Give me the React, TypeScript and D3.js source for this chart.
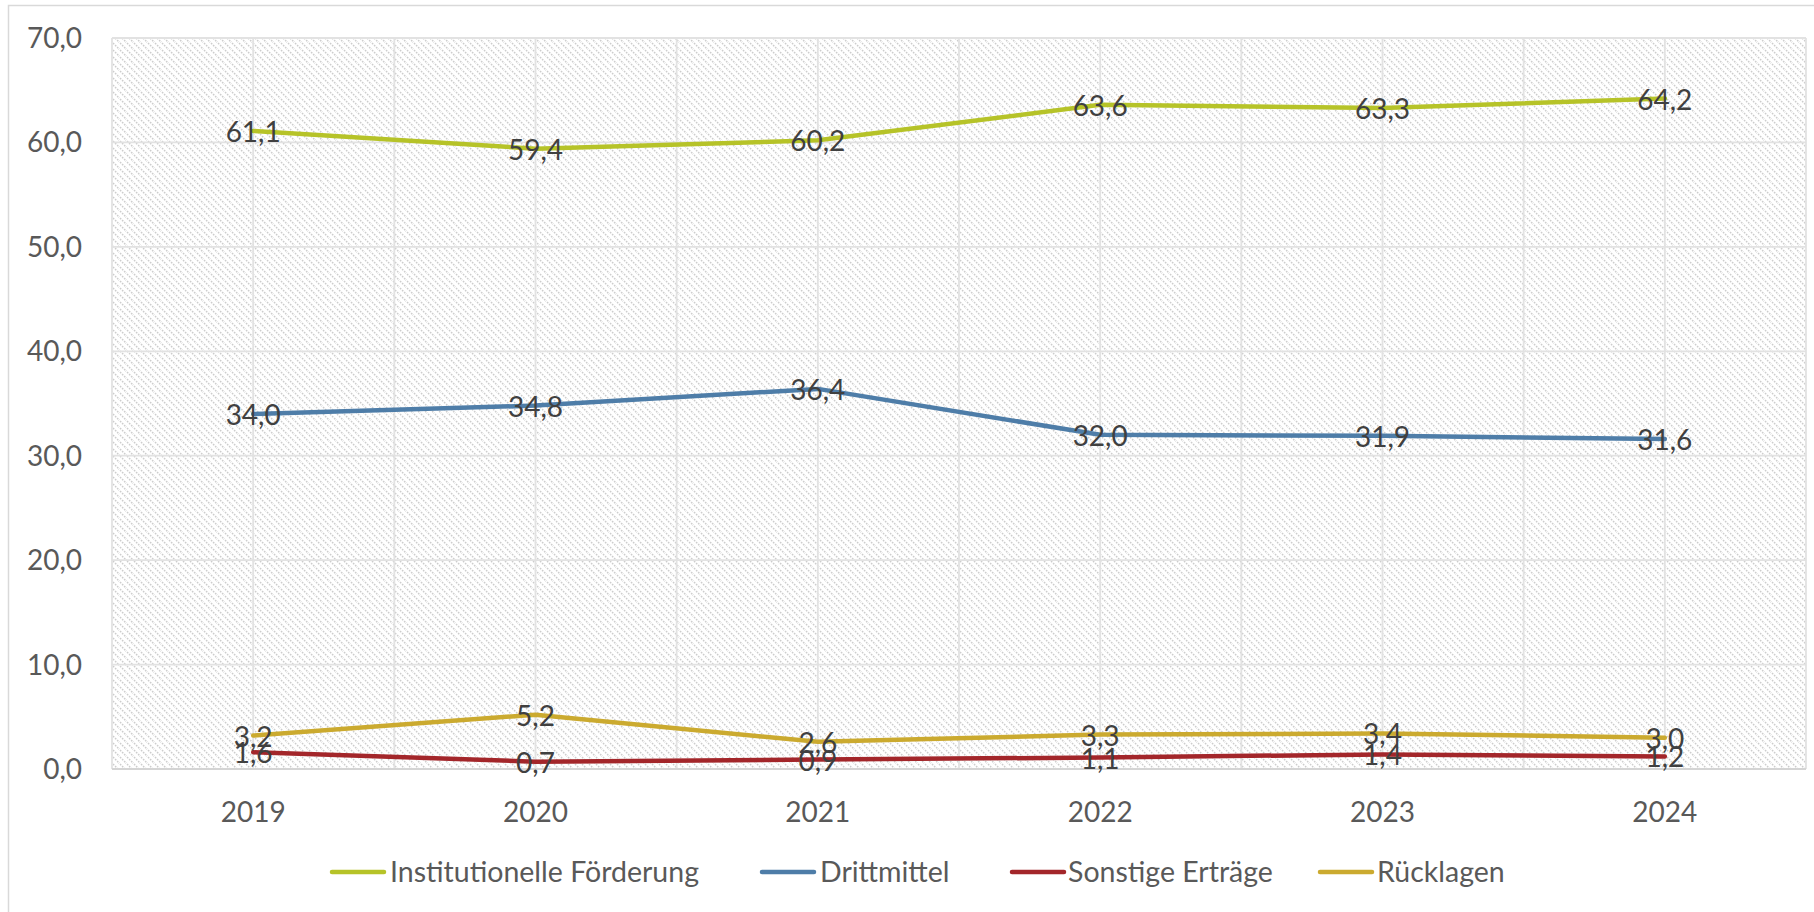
import React from "react";
import * as d3 from "d3";

const years = ["2019", "2020", "2021", "2022", "2023", "2024"];
const institutionell = [61.1, 59.4, 60.2, 63.6, 63.3, 64.2];
const drittmittel = [34.0, 34.8, 36.4, 32.0, 31.9, 31.6];
const sonstige = [1.6, 0.7, 0.9, 1.1, 1.4, 1.2];
const ruecklagen = [3.2, 5.2, 2.6, 3.3, 3.4, 3.0];
const seriesNames = ["Institutionelle Förderung", "Drittmittel", "Sonstige Erträge", "Rücklagen"];
const yTicks = [0, 10, 20, 30, 40, 50, 60, 70];

const colors = ["#B6C328", "#4E7DA8", "#A3262A", "#CBAA2F"];
const seriesValues = [institutionell, drittmittel, sonstige, ruecklagen];
const W = 1814;
const H = 912;
const plot = { left: 112, right: 1806, top: 38, bottom: 769 };
const FONT = "Lato, 'Noto Sans', sans-serif";
const fmt = (v: number) => v.toFixed(1).replace(".", ",");

export default function App() {
  const x = d3
    .scaleBand<string>()
    .domain(years)
    .range([plot.left, plot.right])
    .paddingInner(0)
    .paddingOuter(0);
  const bw = x.bandwidth();
  const cx = (yr: string) => (x(yr) as number) + bw / 2;
  const y = d3.scaleLinear().domain([0, 70]).range([plot.bottom, plot.top]);

  const line = d3
    .line<number>()
    .x((_, i) => cx(years[i]))
    .y((d) => y(d))
    .curve(d3.curveLinear);

  const vGrid: number[] = [];
  years.forEach((yr) => {
    vGrid.push(x(yr) as number);
    vGrid.push(cx(yr));
  });
  vGrid.push(plot.right);

  const legendItems = [
    { lx: 332, tx: 390 },
    { lx: 762, tx: 820 },
    { lx: 1012, tx: 1068 },
    { lx: 1320, tx: 1377 },
  ];
  const legendY = 872;

  return (
    <svg
      width={W}
      height={H}
      style={{ position: "absolute", left: 0, top: 0, background: "#fff" }}
    >
      <defs>
        <pattern id="hatch" patternUnits="userSpaceOnUse" width={7} height={7}>
          <rect width={7} height={7} fill="#ffffff" />
          <path
            d="M-1,-1 L8,8 M-1,6 L1,8 M6,-1 L8,1"
            stroke="#cdcdcd"
            strokeWidth={1.5}
            strokeDasharray="1.6,1.3"
          />
        </pattern>
      </defs>
      <rect x={8.5} y={5.5} width={W + 10} height={H + 10} fill="#fff" stroke="#d9d9d9" strokeWidth={1.5} />
      <rect
        x={plot.left}
        y={plot.top}
        width={plot.right - plot.left}
        height={plot.bottom - plot.top}
        fill="url(#hatch)"
      />
      {yTicks.map((t) => (
        <line
          key={"h" + t}
          x1={plot.left}
          x2={plot.right}
          y1={y(t)}
          y2={y(t)}
          stroke="#e2e2e2"
          strokeWidth={1.8}
        />
      ))}
      {vGrid.map((gx, i) => (
        <line
          key={"v" + i}
          x1={gx}
          x2={gx}
          y1={plot.top}
          y2={plot.bottom}
          stroke="#e2e2e2"
          strokeWidth={1.8}
        />
      ))}
      <line x1={plot.left} x2={plot.right} y1={plot.bottom} y2={plot.bottom} stroke="#d4d4d4" strokeWidth={2.2} />
      {yTicks.map((t) => (
        <text
          key={"yt" + t}
          x={82}
          y={y(t) + 10}
          textAnchor="end"
          fontFamily={FONT}
          fontSize={28}
          fill="#595959"
        >
          {fmt(t)}
        </text>
      ))}
      {years.map((yr) => (
        <text
          key={"xt" + yr}
          x={cx(yr)}
          y={822}
          textAnchor="middle"
          fontFamily={FONT}
          fontSize={28}
          fill="#595959"
        >
          {yr}
        </text>
      ))}
      {seriesValues.map((vals, si) => (
        <path
          key={"s" + si}
          d={line(vals) || ""}
          fill="none"
          stroke={colors[si]}
          strokeWidth={4.5}
          strokeLinecap="round"
          strokeLinejoin="round"
        />
      ))}
      {seriesValues.map((vals, si) =>
        vals.map((v, i) => (
          <text
            key={"l" + si + "-" + i}
            x={cx(years[i])}
            y={y(v) + 11}
            textAnchor="middle"
            fontFamily={FONT}
            fontSize={28}
            fill="#404040"
          >
            {fmt(v)}
          </text>
        ))
      )}
      {seriesNames.map((name, si) => (
        <g key={"lg" + si}>
          <line
            x1={legendItems[si].lx}
            x2={legendItems[si].lx + 52}
            y1={legendY}
            y2={legendY}
            stroke={colors[si]}
            strokeWidth={4.5}
            strokeLinecap="round"
          />
          <text
            x={legendItems[si].tx}
            y={legendY + 10}
            fontFamily={FONT}
            fontSize={28.5}
            fill="#595959"
          >
            {name}
          </text>
        </g>
      ))}
    </svg>
  );
}
